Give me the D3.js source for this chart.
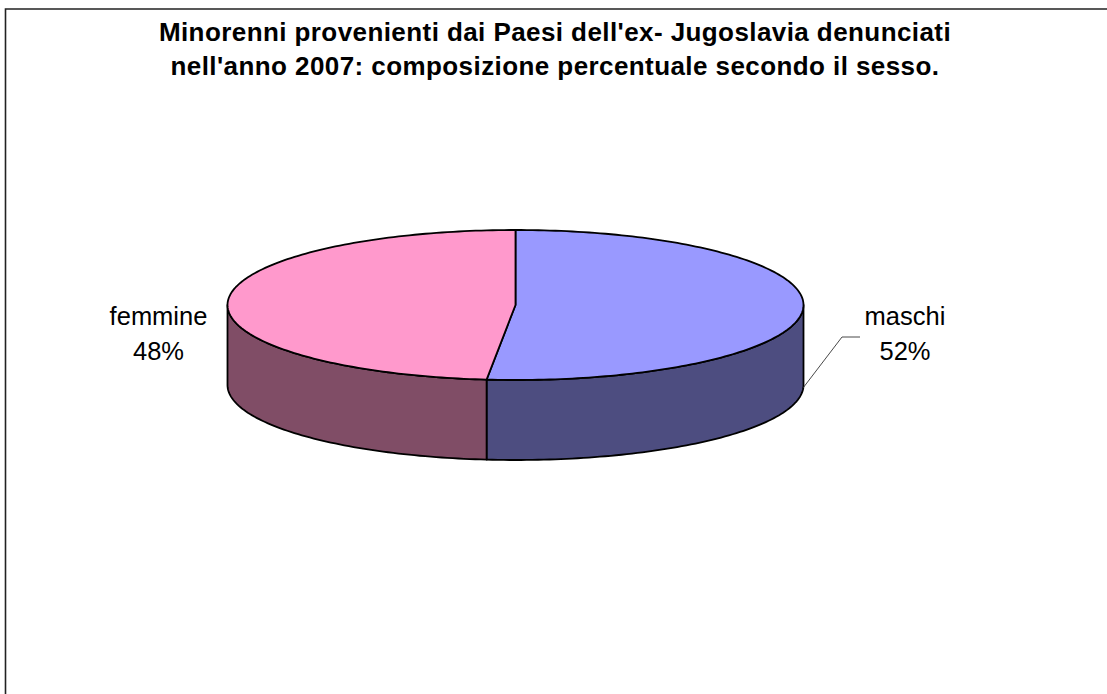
<!DOCTYPE html>
<html>
<head>
<meta charset="utf-8">
<script src="https://cdn.jsdelivr.net/npm/d3@7"></script>
<style>
  html, body { margin: 0; padding: 0; background: #fff; overflow: hidden; }
  svg { display: block; }
  text { font-family: "Liberation Sans", Arial, sans-serif; fill: #000; }
</style>
</head>
<body>
<div id="chart"></div>
<script>
var categories = ["maschi", "femmine"];
var values = [51.6, 48.4];
var topColors = ["#9999ff", "#ff99cc"];
var sideColors = ["#4d4d80", "#804d66"];
var titleLines = [
  "Minorenni provenienti dai Paesi dell'ex- Jugoslavia denunciati",
  "nell'anno 2007: composizione percentuale secondo il sesso."
];

var width = 1107, height = 694;

var config = {
  cx: 515.5, cy: 305,
  rx: 288, ry: 75,
  depth: 80
};

var fmt = d3.format(".0f");

var svg = d3.select("#chart").append("svg")
  .attr("width", width)
  .attr("height", height);

// frame: only left and top edges are inside the picture
svg.append("path")
  .attr("d", "M5.5," + height + "V9H" + width)
  .attr("fill", "none")
  .attr("stroke", "#222")
  .attr("stroke-width", 1.6);

svg.selectAll(".title")
  .data(titleLines)
  .enter().append("text")
  .attr("class", "title")
  .attr("x", 555)
  .attr("y", (d, i) => 41 + i * 34)
  .attr("text-anchor", "middle")
  .style("font-size", "26px")
  .style("font-weight", "bold")
  .style("letter-spacing", "0.42px")
  .text(d => d);

var total = d3.sum(values);
var slices = d3.pie().sort(null)(values);

// ellipse point for a pie angle (0 = top, clockwise)
function px(a) { return config.cx + config.rx * Math.sin(a); }
function py(a) { return config.cy - config.ry * Math.cos(a); }

function angles(a0, a1) {
  var n = Math.max(2, Math.ceil(Math.abs(a1 - a0) / 0.02));
  return d3.range(n + 1).map(i => a0 + (a1 - a0) * i / n);
}

var line = d3.line();

// side wall is only visible on the front half of the ellipse
function sidePath(a0, a1) {
  var from = Math.max(a0, Math.PI / 2);
  var to = Math.min(a1, Math.PI * 1.5);
  var pts = angles(from, to);
  var upper = pts.map(a => [px(a), py(a)]);
  var lower = pts.slice().reverse().map(a => [px(a), py(a) + config.depth]);
  return line(upper.concat(lower)) + "Z";
}

function topPath(a0, a1) {
  var pts = angles(a0, a1).map(a => [px(a), py(a)]);
  return line([[config.cx, config.cy]].concat(pts)) + "Z";
}

var pieGroup = svg.append("g").attr("class", "pie");

pieGroup.selectAll(".side")
  .data(slices)
  .enter().append("path")
  .attr("class", "side")
  .attr("d", d => sidePath(d.startAngle, d.endAngle))
  .attr("fill", (d, i) => sideColors[i])
  .attr("stroke", "#000")
  .attr("stroke-width", 1.8)
  .attr("stroke-linejoin", "round");

pieGroup.selectAll(".top")
  .data(slices)
  .enter().append("path")
  .attr("class", "top")
  .attr("d", d => topPath(d.startAngle, d.endAngle))
  .attr("fill", (d, i) => topColors[i])
  .attr("stroke", "#000")
  .attr("stroke-width", 1.8)
  .attr("stroke-linejoin", "round");

// labels
var labelPos = [{x: 905, y: 325}, {x: 158.5, y: 325}];

var labels = svg.selectAll(".label")
  .data(slices)
  .enter().append("text")
  .attr("class", "label")
  .attr("text-anchor", "middle")
  .style("font-size", "25.5px");

labels.append("tspan")
  .attr("x", (d, i) => labelPos[i].x)
  .attr("y", (d, i) => labelPos[i].y)
  .text((d, i) => categories[i]);

labels.append("tspan")
  .attr("x", (d, i) => labelPos[i].x)
  .attr("y", (d, i) => labelPos[i].y + 35)
  .text(d => fmt(d.value / total * 100) + "%");

// leader line for maschi
svg.append("path")
  .attr("d", line([[803, 388], [842, 337], [860, 337]]))
  .attr("fill", "none")
  .attr("stroke", "#333")
  .attr("stroke-width", 0.9);
</script>
</body>
</html>
